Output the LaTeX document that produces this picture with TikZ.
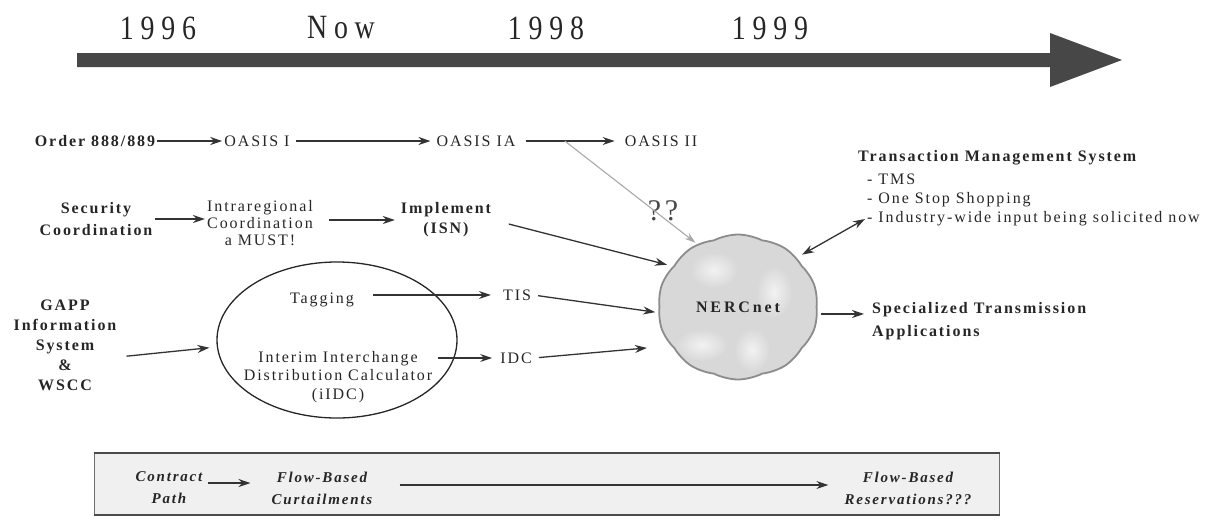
\documentclass[tikz,border=0pt]{standalone}
\usepackage{fontspec}
\setmainfont{Liberation Serif}[LetterSpace=12]
\newfontfamily\yearfont{Liberation Serif}[FakeStretch=0.82,LetterSpace=20]
\newfontfamily\netfont{Liberation Serif}[LetterSpace=18]
\usetikzlibrary{arrows.meta,shapes.geometric,shapes.symbols,calc}
\definecolor{ink}{HTML}{262626}
\definecolor{arrowgray}{HTML}{333333}
\definecolor{bigarrow}{HTML}{474747}
\definecolor{lightarrow}{HTML}{A8A8A8}
\definecolor{cloudfill}{HTML}{D8D8D8}
\definecolor{cloudlight}{HTML}{F2F2F2}
\definecolor{cloudline}{HTML}{8C8C8C}
\definecolor{boxfill}{HTML}{F0F0F0}
\definecolor{boxline}{HTML}{4A4A4A}
\begin{document}
\begin{tikzpicture}[x=1pt,y=-1pt,
  txt/.style={inner sep=2pt, align=center, text=ink, font=\fontsize{16}{20}\selectfont},
  btxt/.style={txt, font=\fontsize{16}{20}\selectfont\bfseries},
  bitxt/.style={txt, font=\fontsize{15}{22}\selectfont\bfseries\itshape},
  yeartxt/.style={inner sep=0pt, text=ink, font=\fontsize{34}{36}\selectfont\yearfont},
  arr/.style={draw=arrowgray, line width=1.3pt, -{Stealth[length=12pt,width=8pt]}},
  darr/.style={draw=arrowgray, line width=1.3pt, {Stealth[length=12pt,width=8pt]}-{Stealth[length=12pt,width=8pt]}},
  garr/.style={draw=lightarrow, line width=1.1pt, -{Stealth[length=11pt,width=7pt]}},
  patch/.style={inner color=cloudlight, outer color=cloudfill}
]
\useasboundingbox (0,0) rectangle (1217,520);

% timeline
\node[yeartxt] (y96) at (158,28) {1996};
\node[yeartxt] (ynow) at (341,28) {Now};
\node[yeartxt] (y98) at (546,28) {1998};
\node[yeartxt] (y99) at (770,28) {1999};
\fill[bigarrow] (77,53) -- (1050,53) -- (1050,33) -- (1122,60) -- (1050,87) -- (1050,67) -- (77,67) -- cycle;

% row 1
\node[btxt] (order) at (95,141) {Order 888/889};
\node[txt] (oasis1) at (257,141) {OASIS I};
\node[txt] (oasis1a) at (476,141) {OASIS IA};
\node[txt] (oasis2) at (661,141) {OASIS II};
\node[txt, font=\fontsize{30}{32}\selectfont, text=black!72] (qq) at (663,211) {??};

% row 2
\node[btxt, font=\fontsize{16}{22}\selectfont\bfseries] (sec) at (96,219) {Security\\Coordination};
\node[txt, font=\fontsize{16}{17}\selectfont] (intra) at (260,223) {Intraregional\\Coordination\\a MUST!};
\node[btxt] (impl) at (446,220) {Implement\\(ISN)};

% cloud
\node[cloud, cloud puffs=10, cloud puff arc=55, aspect=1.1, draw=cloudline, fill=cloudfill,
      line width=1.8pt, minimum width=160pt, minimum height=145pt, inner sep=0pt] (net) at (738,307) {};
\shade[patch] (714,270) ellipse (24pt and 18pt);
\shade[patch] (774,292) ellipse (18pt and 26pt);
\shade[patch] (702,345) ellipse (26pt and 16pt);
\shade[patch] (752,350) ellipse (18pt and 22pt);
\node[inner sep=0pt, text=ink, font=\fontsize{16}{20}\selectfont\bfseries\netfont] (netlabel) at (net.center) {NERCnet};

% TMS
\node[btxt, anchor=west] (tmst) at (856,158) {Transaction Management System};
\node[txt, anchor=west] (tms1) at (865,179) {- TMS};
\node[txt, anchor=west] (tms2) at (865,200) {- One Stop Shopping};
\node[txt, anchor=west] (tms3) at (865,219) {- Industry-wide input being solicited now};

% specialized
\node[btxt, anchor=west, align=left, font=\fontsize{16}{23}\selectfont\bfseries] (spec) at (870,321) {Specialized Transmission\\Applications};

% GAPP
\node[btxt, font=\fontsize{16}{20}\selectfont\bfseries] (gapp) at (65,345) {GAPP\\Information\\System\\\&\\WSCC};

% ellipse
\node[draw=ink, ellipse, line width=1.3pt, minimum width=240pt, minimum height=156pt] (ell) at (337,340) {};
\node[txt] (tag) at (322,300) {Tagging};
\node[txt, font=\fontsize{16}{18.5}\selectfont] (iidc) at (338,377) {Interim Interchange\\Distribution Calculator\\(iIDC)};
\node[txt] (tis) at (517,295) {TIS};
\node[txt] (idc) at (516,358) {IDC};

% bottom box
\node[draw=boxline!80, fill=boxfill, line width=1pt, minimum width=905pt, minimum height=61pt, inner sep=0pt] (bx) at (547,484) {};
\draw[boxline, line width=2pt] (bx.north west) -- (bx.north east);
\draw[boxline, line width=2.2pt] (bx.south west) -- (bx.south east);
\node[bitxt] (contract) at (169,488) {Contract\\Path};
\node[bitxt] (flow1) at (322,488) {Flow-Based\\Curtailments};
\node[bitxt] (resv) at (908,488) {Flow-Based\\Reservations???};

% connectors
\draw[arr] (order) -- (oasis1);
\draw[arr, shorten <=4pt, shorten >=4pt] (oasis1) -- (oasis1a);
\draw[arr, shorten <=8pt, shorten >=8pt] (oasis1a) -- (oasis2);
\path (oasis1a.east) -- (oasis2.west) coordinate[pos=0.45] (br);
\draw[garr, shorten >=2pt] (br) -- (net.123);

\draw[arr] (sec.east) -- (sec.east -| intra.west);
\draw[arr, shorten <=14pt, shorten >=4pt] (impl.west -| intra.east) -- (impl.west);
\draw[arr, shorten <=16pt, shorten >=6pt] (impl.east) -- (net.148);

\draw[darr, shorten <=6pt] (net.40) -- (tms3.west);
\draw[arr, shorten <=3pt, shorten >=6pt] (net.-5) -- (net.-5 -| spec.west);

\draw[arr, shorten <=8pt, shorten >=7pt] ([yshift=-12pt]gapp.east) -- ([yshift=-7pt]ell.west);
\draw[arr, shorten <=17pt, shorten >=10pt] (tis.west -| tag.east) -- (tis.west);
\draw[arr, shorten <=5pt, shorten >=3pt] (tis.east) -- (net.184);
\draw[arr, shorten <=4pt, shorten >=6pt] (idc.west -| iidc.east) -- (idc.west);
\draw[arr, shorten <=5pt, shorten >=24pt] (idc.east) -- (net.210);

\draw[arr, shorten <=3pt, shorten >=19pt] ([yshift=5pt]contract.east) -- ([yshift=5pt]flow1.west);
\draw[arr, shorten <=25pt, shorten >=14pt] ([yshift=3pt]flow1.east) -- ([yshift=3pt]resv.west);
\end{tikzpicture}
\end{document}
